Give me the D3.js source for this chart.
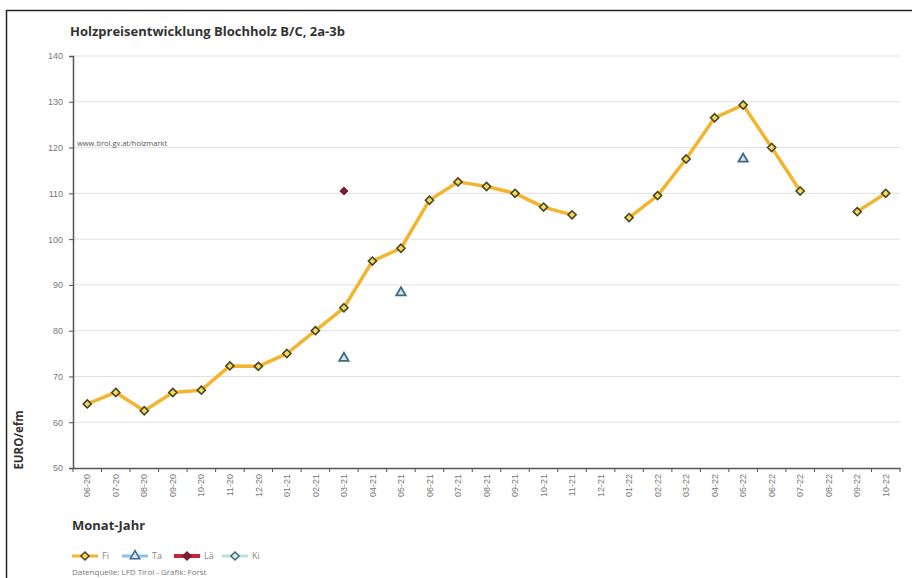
<!DOCTYPE html>
<html>
<head>
<meta charset="utf-8">
<script src="https://cdn.jsdelivr.net/npm/d3@7"></script>
<style>
  body { margin: 0; background: #fff; }
  svg { font-family: "Open Sans", sans-serif; }
</style>
</head>
<body>
<svg width="912" height="578"></svg>
<script>
const width = 912, height = 578;

// Data
const months = ["06-20","07-20","08-20","09-20","10-20","11-20","12-20","01-21","02-21","03-21",
  "04-21","05-21","06-21","07-21","08-21","09-21","10-21","11-21","12-21","01-22","02-22",
  "03-22","04-22","05-22","06-22","07-22","08-22","09-22","10-22"];
const fi = [64, 66.5, 62.5, 66.5, 67, 72.3, 72.2, 75, 80, 85,
  95.2, 98, 108.5, 112.5, 111.5, 110, 107, 105.3, null, 104.7, 109.5,
  117.5, 126.5, 129.3, 120, 110.5, null, 106, 110];
const ta = [{m: "03-21", v: 74}, {m: "05-21", v: 88.3}, {m: "05-22", v: 117.5}];
const lae = [{m: "03-21", v: 110.5}];
const yTicks = [50, 60, 70, 80, 90, 100, 110, 120, 130, 140];

const svg = d3.select("svg");

// frame
svg.append("path").attr("d", `M6.5,${height} V10.5 H${width}`)
  .attr("fill", "none").attr("stroke", "#222").attr("stroke-width", 1.5);

const x = d3.scaleBand().domain(months).range([73, 900]);
const y = d3.scaleLinear().domain([50, 140]).range([468, 56]);

// gridlines
svg.append("g").selectAll("line").data(yTicks.slice(1)).join("line")
  .attr("x1", 73).attr("x2", 900)
  .attr("y1", d => y(d)).attr("y2", d => y(d))
  .attr("stroke", "#e0e0e0").attr("stroke-width", 1);

// y axis
const yAxis = svg.append("g").attr("transform", "translate(73,0)")
  .call(d3.axisLeft(y).tickValues(yTicks).tickSize(4).tickPadding(6));
yAxis.select(".domain").attr("stroke", "#555").attr("stroke-width", 1.5);
yAxis.selectAll(".tick line").attr("stroke", "#555");
yAxis.selectAll("text").attr("fill", "#777").style("font-size", "9px");

// x axis with ticks at band boundaries
const xAxis = svg.append("g").attr("transform", "translate(0,468)")
  .call(d3.axisBottom(x).tickSize(0).tickPadding(4));
xAxis.select(".domain").attr("stroke", "#555").attr("stroke-width", 1.5);
xAxis.selectAll("text")
  .attr("fill", "#777").style("font-size", "9px")
  .attr("transform", "rotate(-90)")
  .attr("text-anchor", "end").attr("x", -6).attr("y", 0).attr("dy", "0.35em");
svg.append("g").selectAll("line").data(months.concat(["_end"])).join("line")
  .attr("x1", (d, i) => 73 + i * x.step()).attr("x2", (d, i) => 73 + i * x.step())
  .attr("y1", 468).attr("y2", 472).attr("stroke", "#555");

const cx = m => x(m) + x.bandwidth() / 2;

// Fi line
const fiPts = months.map((m, i) => ({m, v: fi[i]}));
const line = d3.line().defined(d => d.v != null).x(d => cx(d.m)).y(d => y(d.v));
svg.append("path").datum(fiPts).attr("d", line)
  .attr("fill", "none").attr("stroke", "#f3b52f").attr("stroke-width", 3.5)
  .attr("stroke-linejoin", "round");

const diamond = d3.symbol().type(d3.symbolDiamond2).size(42);
const tri = d3.symbol().type(d3.symbolTriangle).size(38);

svg.append("g").selectAll("path").data(fiPts.filter(d => d.v != null)).join("path")
  .attr("d", diamond)
  .attr("transform", d => `translate(${cx(d.m)},${y(d.v)})`)
  .attr("fill", "#f0dc5a").attr("stroke", "#4a4524").attr("stroke-width", 1.6);

svg.append("g").selectAll("path").data(ta).join("path")
  .attr("d", tri)
  .attr("transform", d => `translate(${cx(d.m)},${y(d.v)})`)
  .attr("fill", "#cfe6f0").attr("stroke", "#3d6a85").attr("stroke-width", 1.8);

svg.append("g").selectAll("path").data(lae).join("path")
  .attr("d", diamond)
  .attr("transform", d => `translate(${cx(d.m)},${y(d.v)})`)
  .attr("fill", "#7a1e34").attr("stroke", "#7a1e34").attr("stroke-width", 1);

// texts
svg.append("text").attr("x", 70).attr("y", 36)
  .attr("fill", "#333").style("font-size", "13px").style("font-weight", "bold")
  .text("Holzpreisentwicklung Blochholz B/C, 2a-3b");
svg.append("text").attr("x", 77).attr("y", 146)
  .attr("fill", "#555").style("font-size", "7.5px")
  .text("www.tirol.gv.at/holzmarkt");
svg.append("text").attr("transform", "translate(23,440) rotate(-90)")
  .attr("text-anchor", "middle").attr("fill", "#333")
  .style("font-size", "11.5px").style("font-weight", "bold")
  .text("EURO/efm");
svg.append("text").attr("x", 72).attr("y", 530)
  .attr("fill", "#333").style("font-size", "13px").style("font-weight", "bold")
  .text("Monat-Jahr");

// legend
const legend = [
  {name: "Fi", color: "#f3b52f", mark: "diamond", fill: "#f0dc5a", stroke: "#4a4524", x: 72},
  {name: "Ta", color: "#8cc0e6", mark: "tri", fill: "#cfe6f0", stroke: "#3d6a85", x: 122},
  {name: "Lä", color: "#c0283a", mark: "diamond", fill: "#7a1e34", stroke: "#7a1e34", x: 174},
  {name: "Ki", color: "#b8e3dc", mark: "diamond", fill: "#d8efe9", stroke: "#3d6a75", x: 222}
];
const lg = svg.append("g").selectAll("g").data(legend).join("g")
  .attr("transform", d => `translate(${d.x},556)`);
lg.append("line").attr("x1", 0).attr("x2", 26)
  .attr("stroke", d => d.color).attr("stroke-width", d => d.name === "Lä" ? 4 : 3);
lg.append("path").attr("d", d => (d.mark === "tri" ? tri : diamond)())
  .attr("transform", "translate(13,0)")
  .attr("fill", d => d.fill).attr("stroke", d => d.stroke).attr("stroke-width", 1.5);
lg.append("text").attr("x", 30).attr("dy", "0.35em")
  .attr("fill", "#888").style("font-size", "9px").text(d => d.name);

svg.append("text").attr("x", 72).attr("y", 575)
  .attr("fill", "#777").style("font-size", "8px")
  .text("Datenquelle: LFD Tirol - Grafik: Forst");
</script>
</body>
</html>
